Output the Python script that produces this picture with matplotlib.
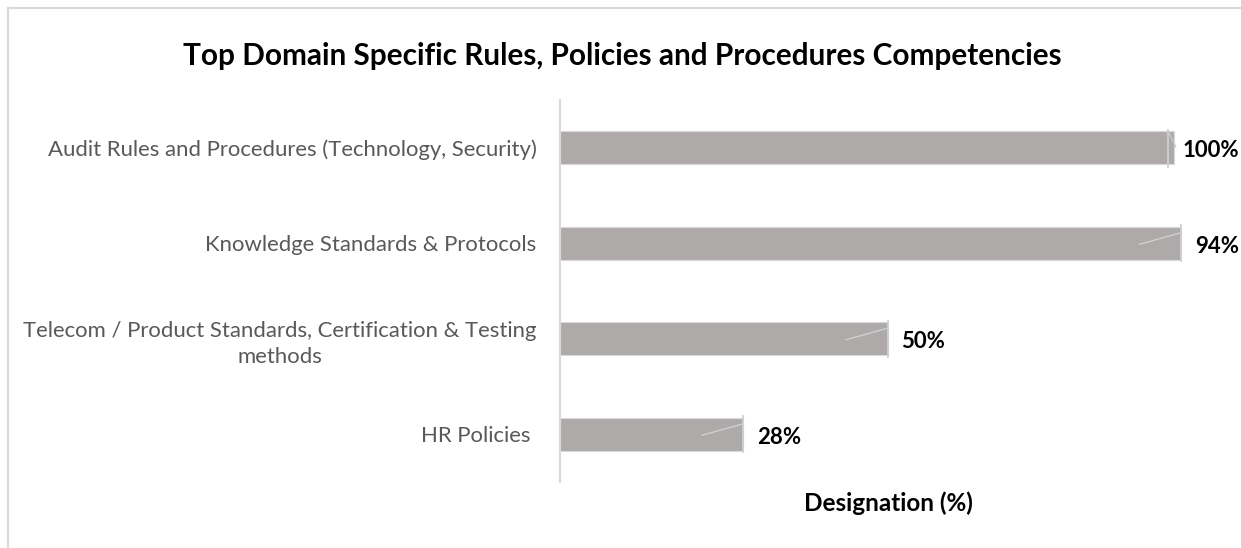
import matplotlib
matplotlib.use("Agg")
import matplotlib.pyplot as plt
from matplotlib.lines import Line2D

categories = [u'Audit Rules and Procedures (Technology, Security)',
              u'Knowledge Standards & Protocols',
              u'Telecom / Product Standards, Certification & Testing\nmethods',
              u'HR Policies ']
bar_values = [0.937, 0.948, 0.50, 0.28]
value_labels = [u'100%', u'94%', u'50%', u'28%']

plt.rcParams['font.family'] = ['Lato', 'DejaVu Sans']

fig = plt.figure(figsize=(12.41, 5.48), dpi=100)
W, H = 1241, 548
# axes in pixel terms: left 560, right 1215, top 100, bottom 482
ax = fig.add_axes([560 / W, 1 - 482 / H, 655 / W, 382 / H])

y = list(range(len(categories)))
bars = ax.barh(y, bar_values, height=0.345, color='#AEAAAA', edgecolor='#D9D9D9', linewidth=0.8)

ax.set_xlim(0, 1)
ax.set_ylim(3.5, -0.5)
ax.set_yticks(y)
ax.set_yticklabels(categories, fontsize=15.9, color='#595959', multialignment='center',
                   linespacing=1.4)
ax.tick_params(axis='y', length=0, pad=17)
ax.set_xticks([])
for s in ['top', 'right', 'bottom']:
    ax.spines[s].set_visible(False)
ax.spines['left'].set_color('#D9D9D9')
ax.spines['left'].set_linewidth(1.5)

# leader-like marks at bar ends (the first one sits a little inside its bar)
for i, (rect, lab) in enumerate(zip(bars, value_labels)):
    xe = rect.get_width()
    yc = rect.get_y() + rect.get_height() / 2
    if i == 0:
        xv = xe - 0.009
        ax.plot([xv, xv], [yc - 0.19, yc + 0.2], color='#D0D0D0', lw=1.3)
        ax.plot([xv, xv + 0.012], [yc - 0.18, yc - 0.01], color='#C8C8C8', lw=1.0)
        pad = 0.013
    else:
        ax.plot([xe, xe], [yc - 0.19, yc + 0.19], color='#D0D0D0', lw=1.3)
        ax.plot([xe - 0.063, xe], [yc + 0.01, yc - 0.11], color='#D0D0D0', lw=1.0)
        pad = 0.021
    ax.text(xe + pad, yc + 0.03, lab, ha='left', va='center', fontsize=16,
            fontweight='bold', color='black')

fig.text(622 / W, 1 - 56 / H, u'Top Domain Specific Rules, Policies and Procedures Competencies',
         ha='center', va='center', fontsize=21.4, fontweight='bold')
fig.text(888 / W, 1 - 503 / H, u'Designation (%)', ha='center', va='center',
         fontsize=17.5, fontweight='bold')

# outer frame (left and top edges)
fig.add_artist(Line2D([8 / W, 8 / W], [0, 1 - 8 / H], color='#D9D9D9', lw=1.5))
fig.add_artist(Line2D([8 / W, 1], [1 - 8 / H, 1 - 8 / H], color='#D9D9D9', lw=1.5))

fig.savefig('out.png', dpi=100)
